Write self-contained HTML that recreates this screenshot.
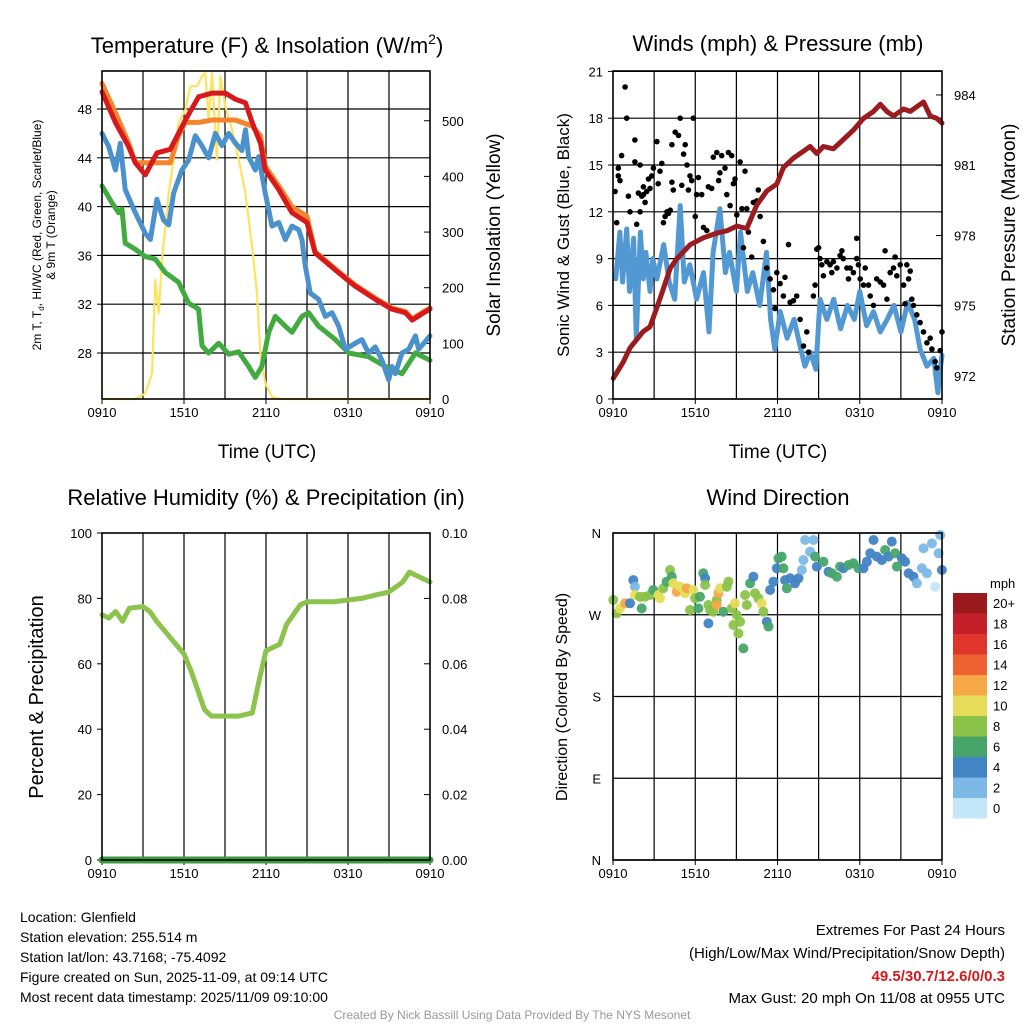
<!DOCTYPE html>
<html><head><meta charset="utf-8"><style>
html,body{margin:0;padding:0;background:#fff;}
svg{display:block;font-family:"Liberation Sans",sans-serif;}
</style></head><body>
<svg id="c" width="1024" height="1024" viewBox="0 0 1024 1024" xmlns="http://www.w3.org/2000/svg">
<rect width="1024" height="1024" fill="#fff"/>
<text x="267" y="53" font-size="22" text-anchor="middle">Temperature (F) &amp; Insolation (W/m<tspan font-size="14" dy="-9">2</tspan><tspan dy="9">)</tspan></text>
<text x="778" y="51" font-size="22" text-anchor="middle">Winds (mph) &amp; Pressure (mb)</text>
<text x="266" y="505" font-size="22" text-anchor="middle">Relative Humidity (%) &amp; Precipitation (in)</text>
<text x="778" y="505" font-size="22" text-anchor="middle">Wind Direction</text>
<text transform="translate(41,235) rotate(-90)" font-size="12" text-anchor="middle">2m T, T<tspan font-size="8" dy="3">d</tspan><tspan dy="-3">, HI/WC (Red, Green, Scarlet/Blue)</tspan></text>
<text transform="translate(55,235) rotate(-90)" font-size="12" text-anchor="middle">&amp; 9m T (Orange)</text>
<text transform="translate(500,235) rotate(-90)" font-size="19" text-anchor="middle">Solar Insolation (Yellow)</text>
<text x="267" y="458" font-size="19" text-anchor="middle">Time (UTC)</text>
<text x="778" y="458" font-size="19" text-anchor="middle">Time (UTC)</text>
<text transform="translate(569,235) rotate(-90)" font-size="17" text-anchor="middle">Sonic Wind &amp; Gust (Blue, Black)</text>
<text transform="translate(1015,235) rotate(-90)" font-size="19" text-anchor="middle">Station Pressure (Maroon)</text>
<text transform="translate(43,697) rotate(-90)" font-size="20" text-anchor="middle">Percent &amp; Precipitation</text>
<text transform="translate(567,697) rotate(-90)" font-size="16" text-anchor="middle">Direction (Colored By Speed)</text>
<g font-size="14">
<text x="20" y="922">Location: Glenfield</text>
<text x="20" y="942">Station elevation: 255.514 m</text>
<text x="20" y="962">Station lat/lon: 43.7168; -75.4092</text>
<text x="20" y="982">Figure created on Sun, 2025-11-09, at 09:14 UTC</text>
<text x="20" y="1002">Most recent data timestamp: 2025/11/09 09:10:00</text>
</g>
<g font-size="15" text-anchor="end">
<text x="1005" y="935">Extremes For Past 24 Hours</text>
<text x="1005" y="958">(High/Low/Max Wind/Precipitation/Snow Depth)</text>
<text x="1005" y="981" fill="#d7191c" font-weight="bold">49.5/30.7/12.6/0/0.3</text>
<text x="1005" y="1003">Max Gust: 20 mph On 11/08 at 0955 UTC</text>
</g>
<text x="512" y="1019" font-size="12" fill="#999" text-anchor="middle">Created By Nick Bassill Using Data Provided By The NYS Mesonet</text>
</svg>
<script>
// ---- data ----
const xTickLabels=["0910","1510","2110","0310","0910"];
const tempHours=[0,0.98,1.95,2.44,3.17,4.02,5,5.6,6.1,7.07,8.05,9.02,9.76,10.5,10.98,11.6,11.95,12.93,13.9,15,15.6,17.07,18.5,20,21.2,22.2,22.7,23.4,24];
const redT=[49.4,46.9,44.9,43.6,42.6,44.4,44.7,46,47.1,49,49.3,49.3,48.8,48.5,46.9,45.2,43,41.4,39.5,38.7,36.2,34.8,33.5,32.4,31.6,31.3,30.7,31.2,31.6];
const orangeT=[50.1,47.7,45.2,43.6,43.6,43.6,43.6,45.8,46.9,46.9,47.1,47.1,47.1,46.8,46.6,45.8,43.3,41.7,40,39.2,36.3,34.9,33.6,32.5,31.7,31.4,30.8,31.3,31.7];
const blueHours=[0,0.5,0.98,1.34,1.7,2.44,3.17,3.54,4.02,4.5,4.88,5.24,5.85,6.34,6.83,7.3,7.8,8.3,8.78,9.27,9.76,10.24,10.5,10.73,11.22,11.46,11.95,12.44,12.93,13.41,13.9,14.39,14.63,14.88,15.24,15.85,16.34,16.83,17.32,17.8,18.54,19.02,19.5,20,20.49,20.98,21.22,21.46,21.95,22.44,22.93,23.17,24];
const blueT=[46,44.9,43,45.2,41.4,39.5,37.8,37.3,40.6,38.9,38.5,41.1,43,43.8,45.8,45,44,46,45,46,45.2,44.6,46.3,44.1,43,44.1,41.1,38.4,38.7,37.3,38.4,38.1,37.3,35.1,32.9,32.4,31,31.3,30.2,28.3,28.8,29.1,28,28.5,27.4,25.8,26.9,26.3,28,28.3,29.4,28.3,29.4];
const greenHours=[0,0.73,1.22,1.46,1.7,2.44,3.17,3.9,4.63,5.6,6.34,7.07,7.32,7.8,8.54,9.27,10,10.73,11.22,11.7,12.2,12.68,13.41,13.9,14.63,15.12,15.85,17.07,18.05,19.5,20.73,21.95,22.93,24];
const greenT=[41.7,40.3,39.5,39.8,37,36.5,35.9,35.7,34.6,33.8,32.1,31.6,28.6,28,28.8,27.9,28.1,26.9,26,26.9,29.7,31,30.2,29.7,31,31.3,30.2,29.1,28,27.7,26.9,26.3,28,27.4];
const solarHours=[0,2.44,3.17,3.66,3.9,4.15,4.39,4.88,5.24,5.6,6.1,6.46,6.95,7.32,7.56,7.8,8.05,8.41,8.66,9.02,9.51,10,10.49,10.98,11.34,11.59,11.95,12.44,13,24];
const solar=[0,0,10,46,214,154,250,370,430,496,520,562,562,580,586,502,586,430,580,526,484,430,370,274,190,82,28,4,0,0];
const windHours=[0.2,0.5,0.7,1,1.2,1.5,1.7,2,2.2,2.4,2.7,2.9,3.2,3.7,4.1,4.5,4.9,5.2,5.6,6.1,6.6,7,7.3,7.8,8.2,8.5,9,9.3,9.8,10.2,10.7,11.2,11.5,11.8,12.2,12.7,13.2,13.7,14,14.4,14.8,15.1,15.6,16.1,16.6,17.1,17.6,18,18.5,19,19.5,20,20.5,21,21.5,22,22.4,22.9,23.4,23.7,23.9,24];
const windSpeed=[7.7,10.7,7.5,10.9,6.9,10.3,3.9,10.7,7.7,9.4,6.9,9.0,7.7,9.9,7.5,6.4,12.4,7.5,8.6,6.4,8.1,4.3,9.4,12.2,8.1,9.4,6.9,10.7,6.9,8.1,6.0,9.4,5.1,3.2,5.6,3.9,5.1,3.2,2.1,3.0,1.9,6.4,5.1,6.4,4.5,6.0,5.1,6.9,4.7,5.6,4.3,5.1,6.0,4.3,6.2,5.1,3.2,2.1,2.6,0.4,2.1,2.8];
const gustHours=[0.15,0.27,0.39,0.51,0.39,0.63,0.88,1.0,1.12,1.24,1.6,1.6,1.73,1.85,1.98,1.98,2.1,2.22,2.22,2.34,2.46,2.59,2.7,2.83,2.95,3.2,3.3,3.43,3.56,3.68,3.8,3.93,4.05,4.17,4.3,4.3,4.4,4.54,4.78,4.9,5.02,5.15,5.27,5.4,5.5,5.62,5.74,5.86,6,6.1,6.23,6.47,6.6,6.84,6.96,7.2,7.32,7.57,7.7,7.8,7.93,8.17,8.3,8.42,8.54,8.66,8.78,8.9,9.03,9.27,9.4,9.51,9.63,9.76,9.88,10.12,10.24,10.49,10.6,10.73,10.97,11.22,11.46,11.7,11.82,11.95,12.19,12.43,12.55,12.8,12.92,13.16,13.4,13.65,13.9,14.14,14.26,14.62,14.74,14.87,15,15.1,15.23,15.35,15.6,15.84,15.96,16.08,16.33,16.57,16.7,16.8,17.06,17.18,17.3,17.54,17.78,17.78,17.9,18.03,18.27,18.4,18.64,18.76,19,19.24,19.5,19.73,19.85,19.98,20.22,20.46,20.58,20.7,20.95,21.2,21.3,21.43,21.56,21.68,21.8,21.92,22.16,22.4,22.65,22.9,23.14,23.26,23.5,23.62,23.87,24];
const gustSpeed=[13.3,11.3,14.3,14.0,14.8,15.6,20.0,18.0,13.0,12.0,16.6,15.2,11.2,13.2,15.0,12.0,13.0,13.1,13.6,12.6,13.3,14.1,13.5,14.3,14.8,16.5,13.8,14.6,15.1,11.3,11.7,12.0,11.9,12.1,13.9,16.3,13.4,17.1,16.9,18.0,13.7,15.7,16.3,15.0,13.4,14.3,14.0,18.0,11.7,13.1,14.2,13.1,11.0,10.8,13.6,13.5,15.5,15.8,14.0,14.5,15.6,14.8,13.1,15.8,12.4,15.6,13.8,14.1,11.8,15.2,12.2,9.7,14.6,12.2,10.7,9.1,12.6,12.7,13.4,11.7,10.1,8.4,7.7,7.0,5.8,8.1,7.4,6.6,7.8,9.9,6.2,6.3,6.6,5.1,3.4,4.3,3.0,6.6,7.3,9.6,9.7,9.0,8.6,7.9,8.8,8.6,8.1,8.8,8.4,9.2,9.5,9.0,8.4,7.7,8.4,8.1,10.3,9.0,8.6,7.7,7.3,8.4,7.3,6.6,6.0,7.7,7.5,7.3,9.5,6.4,8.1,8.4,9.1,7.9,8.6,7.3,6.1,8.6,7.7,8.2,6.4,6.0,5.4,4.9,4.3,3.6,3.9,3.2,2.4,2.0,3.1,4.3];
const presHours=[0.02,0.75,1.24,2.2,2.7,3.43,4.17,4.65,5.62,6.59,7.57,8.3,9.03,9.76,10.49,11.22,11.95,12.43,13.16,13.9,14.38,14.87,15.35,16.08,16.81,17.54,18.27,19,19.5,19.98,20.46,21.2,21.68,22.65,23.14,23.62,24];
const pressure=[971.9,972.6,973.2,973.9,974.1,975.3,976.6,977,977.6,977.9,978.1,978.2,978.4,978.3,979.3,979.9,980.2,980.9,981.3,981.6,981.8,981.5,981.8,981.7,982.1,982.5,983,983.3,983.6,983.3,983.1,983.4,983.3,983.7,983.1,983,982.8];
const rhHours=[0,0.5,1,1.5,2,3,3.5,4,5,6,6.5,7,7.5,8,9,10,11,11.5,12,13,13.5,14.5,15,17,18,19,20,21,22,22.5,23,24];
const rh=[75,74,76,73,77,77.5,76,73,68,63,58,52,46,44,44,44,45,55,64,66,72,78,79,79,79.5,80,81,82,85,88,87,85];
const precip=[0,0];
const precipHours=[0,24];
const dirHours=[0.02,0.27,0.51,0.88,1.24,1.48,1.6,1.6,1.97,2.09,2.34,2.7,2.94,3.31,3.43,3.67,3.92,4.16,4.28,4.4,4.65,4.89,5.26,5.38,5.62,5.86,5.99,6.23,6.35,6.59,6.72,6.72,6.96,6.96,7.08,7.32,7.57,7.69,7.81,7.57,8.05,8.3,8.42,8.66,8.9,9.03,8.78,9.15,9.27,9.51,9.64,9.76,10,10.24,10.36,10.61,10.85,10.97,11.22,11.34,11.46,11.7,11.95,12.07,12.31,12.43,12.55,12.68,12.92,13.28,13.53,13.77,13.89,14.01,14.38,14.62,14.74,14.87,15.35,15.72,15.96,16.33,16.57,16.81,17.18,17.54,17.91,18.27,18.52,18.76,19,19.25,19.61,19.85,20.1,20.34,20.58,20.71,21.07,21.31,21.56,21.92,22.17,22.53,22.65,22.9,23.26,23.5,23.75,23.87,23.99];
const dirDeg=[286.2,271.5,277,282.6,282.6,308.2,300.9,291.7,289.9,277,289.9,291.7,297.2,291.7,288.1,299.1,306.4,319.3,311.9,304.6,295.4,300.9,293.6,299.1,275.2,297.2,288.1,277,289.9,315.6,310.1,302.7,280.7,260.5,275.2,273.4,286.2,293.6,299.1,280.7,273.4,300.9,306.4,277,282.6,269.7,258.7,249.5,262.4,233,291.7,280.7,304.6,311.9,293.6,288.1,282.6,273.4,262.4,256.9,297.2,306.4,321.1,332.1,334,321.1,308.2,299.1,310.1,304.6,310.1,319.3,330.3,352.3,339.4,352.3,334,323,328.4,317.4,315.6,311.9,323,321.1,324.8,326.6,321.1,321.1,328.4,337.6,352.3,334,330.3,341.3,334,350.5,337.6,323,332.1,328.4,315.6,311.9,304.6,321.1,343.1,315.6,348.6,300.9,337.6,357.8,319.3];
const dirSpeed=[8,8,10,12,4,4,2,10,8,6,8,8,6,10,10,8,6,8,6,10,12,10,10,12,8,10,8,6,6,6,4,8,8,4,8,8,8,12,10,12,6,8,8,8,10,8,8,8,8,6,8,8,6,4,8,8,10,8,4,6,4,4,4,6,6,6,4,6,4,4,4,2,2,2,2,2,6,4,6,4,6,6,6,4,6,6,6,4,4,4,4,4,4,6,4,4,6,6,4,4,4,4,2,2,2,2,2,0,2,2,4];
const cbLabels=["20+","18","16","14","12","10","8","6","4","2","0"];
const cbColors=["#9a1a1e","#c3202a","#e0352b","#ee6130","#f6a746","#e5dd59","#8bc34a","#47a56a","#4284c4","#7cb9e6","#c3e6f8"];

const svg=document.getElementById('c');
const NS="http://www.w3.org/2000/svg";
function mk(tag,attrs,parent){const e=document.createElementNS(NS,tag);for(const k in attrs)e.setAttribute(k,attrs[k]);(parent||svg).appendChild(e);return e;}
function txt(s,attrs,parent){const e=mk('text',attrs,parent);e.textContent=s;return e;}

function panel(x0,y0,x1,y1){return {x0,y0,x1,y1,X:h=>x0+(x1-x0)*h/24};}
const P1=panel(102,71,430,399), P2=panel(613,71,942,399), P3=panel(102,533,430,860), P4=panel(613,533,942,860);
const yT=v=>353-(v-28)*12.2;
const yS=v=>399-v*0.5565;
const yW=v=>399-v*15.6;
const yP=v=>376-(v-972)*23.42;
const yR=v=>860-v*3.27;
const yPr=v=>860-v*3270;
const yD=v=>533+(360-v)*327/360;

function frame(P,name){
  const g=mk('g',{});
  
  
  for(let i=1;i<8;i++){const x=P.X(i*3);const l=mk('line',{x1:x,x2:x,y1:P.y0,y2:P.y1,stroke:'#000','stroke-width':1.2},g);}
  xTickLabels.forEach((s,i)=>{const x=P.X(i*6);const t=txt(s,{x:x,y:P.y1+18,'font-size':13,'text-anchor':'middle'},g);
    mk('line',{x1:x,x2:x,y1:P.y1,y2:P.y1+5,stroke:'#000'},g);});
  return g;
}
function hgrid(g,P,y){const l=mk('line',{x1:P.x0,x2:P.x1,y1:y,y2:y,stroke:'#000','stroke-width':1.2},g);}
function border(g,P){const r=mk('rect',{x:P.x0,y:P.y0,width:P.x1-P.x0,height:P.y1-P.y0,fill:'none',stroke:'#000','stroke-width':1.6},g);}
function line(g,P,hs,vs,fy,color,w,name){
  const d=hs.map((h,i)=>(i?'L':'M')+P.X(h).toFixed(1)+','+fy(vs[i]).toFixed(1)).join('');
  const p=mk('path',{d:d,fill:'none',stroke:color,'stroke-width':w,'stroke-linejoin':'round','stroke-linecap':'round'},g);
  
  
  return p;
}
function leftTicks(g,P,vals,fy,fmt){vals.forEach(v=>{const y=fy(v);mk('line',{x1:P.x0-5,x2:P.x0,y1:y,y2:y,stroke:'#000'},g);const t=txt(fmt(v),{x:P.x0-10,y:y+5,'font-size':13,'text-anchor':'end'},g);});}
function rightTicks(g,P,vals,fy,fmt){vals.forEach(v=>{const y=fy(v);mk('line',{x1:P.x1-6,x2:P.x1,y1:y,y2:y,stroke:'#000'},g);const t=txt(fmt(v),{x:P.x1+12,y:y+5,'font-size':13},g);});}

// Panel 1
const g1=frame(P1,'temperature-panel');
[28,32,36,40,44,48].forEach(v=>hgrid(g1,P1,yT(v)));
leftTicks(g1,P1,[28,32,36,40,44,48],yT,v=>v);
rightTicks(g1,P1,[0,100,200,300,400,500],yS,v=>v);
line(g1,P1,solarHours,solar,yS,'#fde35e',2.2,'solar-line');
line(g1,P1,greenHours,greenT,yT,'#41ab3f',5,'dewpoint-line');
line(g1,P1,blueHours,blueT,yT,'#4b92cd',5,'windchill-line');
line(g1,P1,tempHours,orangeT,yT,'#f5852d',5,'temp-9m-line');
line(g1,P1,tempHours,redT,yT,'#d7191c',5,'temp-2m-line');
border(g1,P1);

// Panel 2
const g2=frame(P2,'wind-panel');
[0,3,6,9,12,15,18,21].forEach(v=>hgrid(g2,P2,yW(v)));
leftTicks(g2,P2,[0,3,6,9,12,15,18,21],yW,v=>v);
rightTicks(g2,P2,[972,975,978,981,984],yP,v=>v);
line(g2,P2,windHours,windSpeed,yW,'#5299d3',5,'wind-speed-line');
gustHours.forEach((h,i)=>{const c=mk('circle',{cx:P2.X(h).toFixed(1),cy:yW(gustSpeed[i]).toFixed(1),r:2.8,fill:'#000'},g2);
  
  });
line(g2,P2,presHours,pressure,yP,'#9b1b1e',5,'pressure-line');
border(g2,P2);

// Panel 3
const g3=frame(P3,'humidity-panel');
leftTicks(g3,P3,[0,20,40,60,80,100],yR,v=>v);
rightTicks(g3,P3,[0,0.02,0.04,0.06,0.08,0.10],yPr,v=>v.toFixed(2));
line(g3,P3,rhHours,rh,yR,'#8cc34c',5,'rh-line');
line(g3,P3,precipHours,precip,yPr,'#3a9a40',7,'precip-line');
border(g3,P3);

// Panel 4
const g4=frame(P4,'direction-panel');
const dirTicks=[360,270,180,90,0], dirLabels=["N","W","S","E","N"];
dirTicks.forEach(v=>hgrid(g4,P4,yD(v)));
dirTicks.forEach((v,i)=>{const t=txt(dirLabels[i],{x:P4.x0-12,y:yD(v)+5,'font-size':13,'text-anchor':'end'},g4);});
function spdColor(s){const idx=Math.min(10,Math.max(0,10-Math.floor(s/2)));return cbColors[idx];}
dirHours.forEach((h,i)=>{const c=mk('circle',{cx:P4.X(h).toFixed(1),cy:yD(dirDeg[i]).toFixed(1),r:5,fill:spdColor(dirSpeed[i]),opacity:0.95},g4);
  
  });
border(g4,P4);

// colorbar
const cb=mk('g',{});


txt('mph',{x:990,y:588,'font-size':13},cb);
cbColors.forEach((c,i)=>{const y=593+i*20.5;mk('rect',{x:953,y:y,width:34,height:20.5,fill:c},cb);
  const t=txt(cbLabels[i],{x:993,y:y+15,'font-size':13},cb);
  
  });
</script>
</body></html>
